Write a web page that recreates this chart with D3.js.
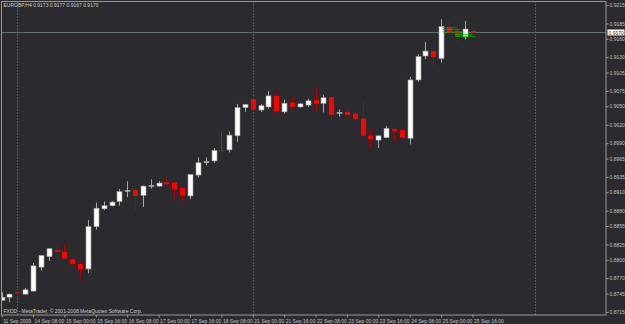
<!DOCTYPE html>
<html>
<head>
<meta charset="utf-8">
<script src="https://cdn.jsdelivr.net/npm/d3@7/dist/d3.min.js"></script>
<style>
  body { margin: 0; background: #2b2a2e; }
  text { font-family: "Liberation Sans", Arial, sans-serif; }
</style>
</head>
<body>
<div id="chart"></div>
<script>
// EURGBP H4, one bar per index (11 Sep 2009 16:00 -> 25 Sep 2009 16:00)
const openVals  = [0.8734,0.8739,0.8747,0.8744,0.8749,0.8788,0.8805,0.8816,0.8813,0.8801,
                   0.8793,0.8785,0.8854,0.8883,0.8888,0.8895,0.8912,0.8914,0.8905,0.8920,
                   0.8920,0.8926,0.8926,0.8917,0.8904,0.8938,0.8959,0.8961,0.8978,0.8979,
                   0.9002,0.9048,0.9062,0.9044,0.9049,0.9067,0.9041,0.9056,0.9049,0.9052,
                   0.9060,0.9055,0.9065,0.9039,0.9041,0.9038,0.9030,0.9002,0.8995,0.8999,
                   0.9013,0.9011,0.8998,0.9093,0.9132,0.9140,0.9128,0.9179,0.9173,0.9163,
                   0.9173];
const highVals  = [0.8747,0.8745,0.8752,0.8754,0.8795,0.8808,0.8819,0.8826,0.8826,0.8802,
                   0.8796,0.8865,0.8893,0.8895,0.8896,0.8915,0.8928,0.8914,0.8921,0.8931,
                   0.8928,0.8933,0.8926,0.8917,0.8939,0.8967,0.8967,0.8982,0.9009,0.9009,
                   0.9054,0.9054,0.9065,0.9054,0.9075,0.9070,0.9061,0.9064,0.9055,0.9062,
                   0.9080,0.9069,0.9065,0.9045,0.9048,0.9041,0.9058,0.9012,0.9002,0.9018,
                   0.9014,0.9012,0.9098,0.9135,0.9155,0.9141,0.9192,0.9189,0.9185,0.9189,
                   0.9177];
const lowVals   = [0.8733,0.8731,0.8741,0.8743,0.8748,0.8782,0.8798,0.8811,0.8801,0.8790,
                   0.8769,0.8778,0.8849,0.8881,0.8887,0.8888,0.8902,0.8880,0.8886,0.8916,
                   0.8919,0.8922,0.8897,0.8895,0.8899,0.8934,0.8954,0.8958,0.8978,0.8975,
                   0.8992,0.9041,0.9045,0.9041,0.9046,0.9040,0.9038,0.9049,0.9048,0.9049,
                   0.9041,0.9040,0.9025,0.9033,0.9036,0.9029,0.9002,0.8983,0.8982,0.8998,
                   0.8994,0.8998,0.8988,0.9090,0.9127,0.9116,0.9121,0.9169,0.9153,0.9159,
                   0.9167];
const closeVals = [0.8739,0.8744,0.8746,0.8751,0.8790,0.8807,0.8818,0.8813,0.8802,0.8793,
                   0.8784,0.8854,0.8884,0.8888,0.8894,0.8911,0.8913,0.8904,0.8920,0.8921,
                   0.8925,0.8923,0.8915,0.8905,0.8939,0.8958,0.8960,0.8978,0.8978,0.9003,
                   0.9048,0.9053,0.9045,0.9051,0.9067,0.9042,0.9055,0.9049,0.9054,0.9059,
                   0.9054,0.9064,0.9036,0.9040,0.9036,0.9029,0.9002,0.8997,0.9002,0.9014,
                   0.9010,0.8999,0.9093,0.9131,0.9140,0.9130,0.9180,0.9170,0.9163,0.9176,
                   0.9170];

// price scale labels on the right
const priceTicks = [0.9215,0.9185,0.9160,0.9130,0.9105,0.9075,0.9050,0.9020,0.8990,0.8965,
                    0.8935,0.8910,0.8880,0.8855,0.8825,0.8800,0.8770,0.8745,0.8715];
const bidPrice = 0.9170;

// time scale labels (bar index -> text)
const timeTickIdx = [0,4,8,12,16,20,24,28,32,36,40,44,48,52,56,60];
const timeLabels = ["11 Sep 2009","14 Sep 08:00","15 Sep 00:00","15 Sep 16:00","16 Sep 08:00",
                    "17 Sep 00:00","17 Sep 16:00","18 Sep 08:00","21 Sep 00:00","21 Sep 16:00",
                    "22 Sep 08:00","23 Sep 00:00","23 Sep 16:00","24 Sep 08:00","25 Sep 00:00",
                    "25 Sep 16:00"];
// weekly period separators (bar index)
const separatorIdx = [2, 32, 68];

// green level lines near the last bars
const greenLevels = [0.9178, 0.9175, 0.9171, 0.9167, 0.9164];
const greenFrom   = [56.2, 56.2, 56.2, 57.8, 57.8];
const greenTo     = [58.0, 58.4, 59.0, 60.0, 60.4];

const title = "EURGBP,H4  0.9173 0.9177 0.9167 0.9170";
const footer = "FXDD - MetaTrader, \u00A9 2001-2008 MetaQuotes Software Corp.";

const bars = openVals.map((o, i) => ({ i: i, o: o, h: highVals[i], l: lowVals[i], c: closeVals[i] }));

const W = 625, H = 324;
const plot = { left: 1.5, right: 606, top: 1.5, bottom: 315 };

const svg = d3.select("#chart").append("svg")
    .attr("width", W).attr("height", H)
    .style("display", "block");

svg.append("rect").attr("width", W).attr("height", H).attr("fill", "#2b2a2e");

const xScale = d3.scaleLinear().domain([0, 60]).range([1.65, 472.5]);
const yScale = d3.scaleLinear().domain([0.8710, 0.9220]).range([315, 2]);

svg.append("clipPath").attr("id", "clip")
    .append("rect")
    .attr("x", plot.left).attr("y", plot.top)
    .attr("width", plot.right - plot.left).attr("height", plot.bottom - plot.top);

const g = svg.append("g").attr("clip-path", "url(#clip)");

// period separators
g.selectAll(".sep").data(separatorIdx).enter().append("line")
    .attr("class", "sep")
    .attr("x1", d => Math.round(xScale(d)) + 0.5).attr("x2", d => Math.round(xScale(d)) + 0.5)
    .attr("y1", plot.top).attr("y2", plot.bottom)
    .attr("stroke", "#8a8a8a").attr("stroke-width", 1)
    .attr("stroke-dasharray", "1,2");

// bid line
g.append("line")
    .attr("x1", plot.left).attr("x2", plot.right)
    .attr("y1", Math.round(yScale(bidPrice)) - 0.5).attr("y2", Math.round(yScale(bidPrice)) - 0.5)
    .attr("stroke", "#5e7272").attr("stroke-width", 1);

function wickColor(d) {
    if (d.c > d.o) return "#a8a8a8";
    if (d.c < d.o) return "#b00000";
    return "#1d6060";
}
function bodyColor(d) {
    if (d.c > d.o) return "#ffffff";
    if (d.c < d.o) return "#ff0000";
    return "#1d6060";
}

const candles = g.selectAll(".candle").data(bars).enter().append("g").attr("class", "candle");

candles.append("line")
    .attr("x1", d => Math.round(xScale(d.i)) + 0.5)
    .attr("x2", d => Math.round(xScale(d.i)) + 0.5)
    .attr("y1", d => yScale(d.h))
    .attr("y2", d => yScale(d.l))
    .attr("stroke", wickColor).attr("stroke-width", 1);

candles.append("rect")
    .attr("x", d => Math.round(xScale(d.i)) - 2)
    .attr("width", 5)
    .attr("y", d => yScale(Math.max(d.o, d.c)))
    .attr("height", d => Math.max(1, yScale(Math.min(d.o, d.c)) - yScale(Math.max(d.o, d.c))))
    .attr("fill", bodyColor)
    .attr("stroke", d => d.c > d.o ? "#9a9a9a" : "none")
    .attr("stroke-width", 0.6);

// green lines
g.selectAll(".lvl").data(greenLevels).enter().append("line")
    .attr("class", "lvl")
    .attr("x1", (d, i) => xScale(greenFrom[i]))
    .attr("x2", (d, i) => xScale(greenTo[i]))
    .attr("y1", d => yScale(d)).attr("y2", d => yScale(d))
    .attr("stroke", "#00b000").attr("stroke-width", 0.8);

// frame
svg.append("rect")
    .attr("x", plot.left).attr("y", plot.top)
    .attr("width", plot.right - plot.left).attr("height", plot.bottom - plot.top)
    .attr("fill", "none").attr("stroke", "#9a9a9a").attr("stroke-width", 1);

// price axis
const yAxis = d3.axisRight(yScale)
    .tickValues(priceTicks)
    .tickFormat(d3.format(".4f"))
    .tickSize(2.5)
    .tickPadding(1);

const yAxisGroup = svg.append("g")
    .attr("transform", `translate(${plot.right},0)`)
    .call(yAxis);
yAxisGroup.select(".domain").remove();
yAxisGroup.selectAll("line").attr("stroke", "#9a9a9a");
yAxisGroup.selectAll("text")
    .attr("fill", "#c4c4c4").attr("font-size", 5)
    .attr("font-family", "Liberation Sans, Arial, sans-serif");

// bid label box
const bidY = Math.round(yScale(bidPrice));
svg.append("rect")
    .attr("x", plot.right + 1.5).attr("y", bidY - 3.5)
    .attr("width", 17).attr("height", 6)
    .attr("fill", "#ffffff");
svg.append("text")
    .attr("x", plot.right + 2.5).attr("y", bidY)
    .attr("dy", "0.35em")
    .attr("font-size", 5)
    .attr("fill", "#2b2a2e")
    .text(d3.format(".4f")(bidPrice));

// time axis
const xAxis = d3.axisBottom(xScale)
    .tickValues(timeTickIdx)
    .tickFormat((d, i) => timeLabels[i])
    .tickSize(2.5)
    .tickPadding(1.5);

const xAxisGroup = svg.append("g")
    .attr("transform", `translate(0,${plot.bottom})`)
    .call(xAxis);
xAxisGroup.select(".domain").remove();
xAxisGroup.selectAll("line").attr("stroke", "#9a9a9a");
xAxisGroup.selectAll("text")
    .attr("text-anchor", "start")
    .attr("dx", 1)
    .attr("fill", "#c4c4c4").attr("font-size", 5)
    .attr("font-family", "Liberation Sans, Arial, sans-serif");

// title and footer
svg.append("text")
    .attr("x", 3.5).attr("y", 7)
    .attr("font-size", 5).attr("fill", "#d0d0d0")
    .text(title);

svg.append("text")
    .attr("x", 3.5).attr("y", 313)
    .attr("font-size", 5).attr("fill", "#d0d0d0")
    .text(footer);
</script>
</body>
</html>
